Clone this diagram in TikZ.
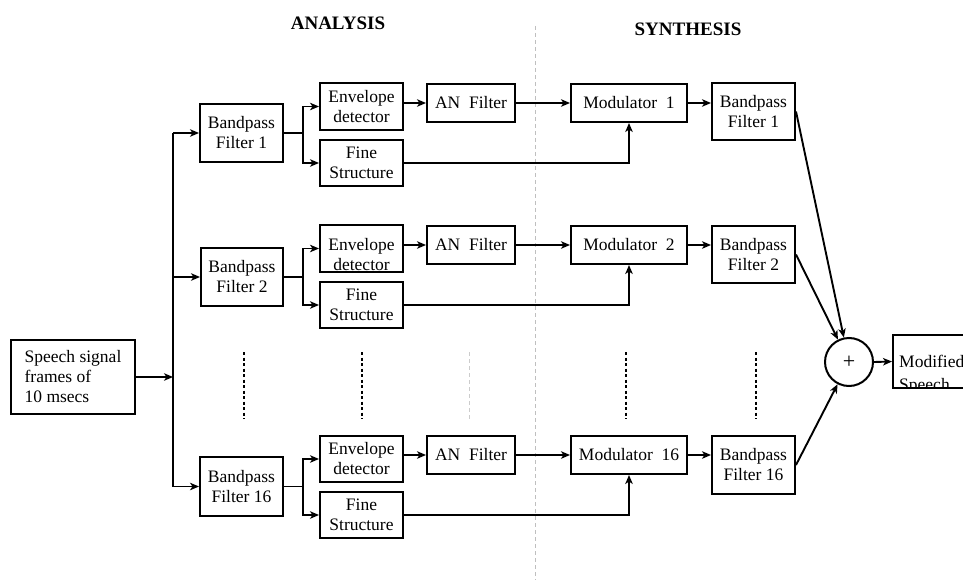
\documentclass[tikz,border=0pt]{standalone}
\usepackage{fontspec}
\setmainfont{Liberation Serif}
\usetikzlibrary{arrows.meta}
\begin{document}
\begin{tikzpicture}[x=1pt,y=-1pt,
  txt/.style={font=\fontsize{17.5}{20}\selectfont,inner sep=0pt,align=center},
  box/.style={txt,draw,line width=2pt},
  ln/.style={line width=1.9pt},
  arr/.style={line width=1.9pt,-{Stealth[length=9pt,width=7.5pt,inset=2.5pt]}},
  gdash/.style={draw=black!25,line width=1pt,dash pattern=on 4pt off 3pt},
  bdash/.style={draw=black,line width=2pt,dash pattern=on 3pt off 2.5pt},
  ttl/.style={font=\fontsize{19}{22}\selectfont\bfseries,inner sep=0pt}]
\clip (0,0) rectangle (963,580);
% titles
\node[ttl] (tA) at (338,23) {ANALYSIS};
\node[ttl] (tS) at (688,29) {SYNTHESIS};
% centre divider
\coordinate (divT) at (535.5,26);
\coordinate (divB) at (535.5,580);
\draw[gdash] (divT) -- (divB);
% input
\node[box,align=left,minimum width=124pt,minimum height=74pt] (sp) at (73,377) {Speech signal\\frames of\\10 msecs};
\coordinate (tr) at (173,377);
% row 1
\node[box,minimum width=83pt,minimum height=58pt] (bf1) at (241.5,133) {Bandpass\\Filter 1};
\node[box,minimum width=83pt,minimum height=47pt] (env1) at (361.5,106.5) {Envelope\\detector};
\node[box,minimum width=83pt,minimum height=46pt] (fine1) at (361.5,163) {Fine\\Structure};
\node[box,minimum width=88pt,minimum height=38pt] (an1) at (471,103) {AN\hspace{0.5em}Filter};
\node[box,minimum width=116pt,minimum height=38pt] (mod1) at (629,103) {Modulator\hspace{0.5em}1};
\node[box,minimum width=83pt,minimum height=57pt] (bfs1) at (753.5,111.5) {Bandpass\\Filter 1};
% row 2
\node[box,minimum width=82pt,minimum height=58pt] (bf2) at (242,277) {Bandpass\\Filter 2};
\begin{scope}
\clip (320,225) rectangle (403,272);
\node[txt] (env2t) at (361.5,254.5) {Envelope\\detector};
\end{scope}
\node[box,minimum width=83pt,minimum height=47pt] (env2) at (361.5,248.5) {};
\node[box,minimum width=83pt,minimum height=46pt] (fine2) at (361.5,305) {Fine\\Structure};
\node[box,minimum width=88pt,minimum height=38pt] (an2) at (471,245) {AN\hspace{0.5em}Filter};
\node[box,minimum width=116pt,minimum height=38pt] (mod2) at (629,245) {Modulator\hspace{0.5em}2};
\node[box,minimum width=83pt,minimum height=57pt] (bfs2) at (753.5,254.5) {Bandpass\\Filter 2};
% row 16
\node[box,minimum width=83pt,minimum height=59pt] (bf16) at (241.5,486.5) {Bandpass\\Filter 16};
\node[box,minimum width=83pt,minimum height=46pt] (env16) at (361.5,459) {Envelope\\detector};
\node[box,minimum width=83pt,minimum height=46pt] (fine16) at (361.5,515) {Fine\\Structure};
\node[box,minimum width=88pt,minimum height=38pt] (an16) at (471,455) {AN\hspace{0.5em}Filter};
\node[box,minimum width=116pt,minimum height=38pt] (mod16) at (629,455) {Modulator\hspace{0.5em}16};
\node[box,minimum width=83pt,minimum height=58pt] (bfs16) at (753.5,465) {Bandpass\\Filter 16};
% summer and output
\node[draw,circle,line width=2pt,minimum size=48pt,inner sep=0pt,font=\fontsize{22}{24}\selectfont] (sum) at (849,362) {+};
\begin{scope}
\clip (893,335) rectangle (990,388);
\node[txt,anchor=base west] (m1) at (899,367) {Modified};
\node[txt,anchor=base west] (m2) at (899,390) {Speech};
\end{scope}
\node[draw,line width=2pt,minimum width=100pt,minimum height=53pt,inner sep=0pt] (out) at (943,361.5) {};
% input connectors
\draw[arr] (sp.east) -- (sp.east -| tr);
\draw[ln] (bf1.west -| tr) -- (bf16.west -| tr);
\coordinate (brx) at (303,0);
\foreach \r in {1,2,16}{
  \draw[arr] (bf\r.west -| tr) -- (bf\r.west);
  \draw[ln] (bf\r.east) -- (bf\r.east -| brx);
  \draw[arr] (bf\r.east -| brx) |- (env\r.west);
  \draw[arr] (bf\r.east -| brx) |- (fine\r.west);
  \draw[arr] (env\r.east |- an\r.west) -- (an\r.west);
  \draw[arr] (an\r.east) -- (mod\r.west);
  \draw[arr] (fine\r.east) -| (mod\r.south);
  \draw[arr] (mod\r.east) -- (mod\r.east -| bfs\r.west);
  \draw[arr] (bfs\r.east) -- (sum);
}
\draw[arr] (sum.east) -- (out.west);
% ellipsis dashes
\foreach \x in {244,362,626,756}{
  \draw[bdash] (\x,352) -- (\x,419);
}
\draw[gdash,draw=black!20] (469,352) -- (469,419);
\end{tikzpicture}
\end{document}
